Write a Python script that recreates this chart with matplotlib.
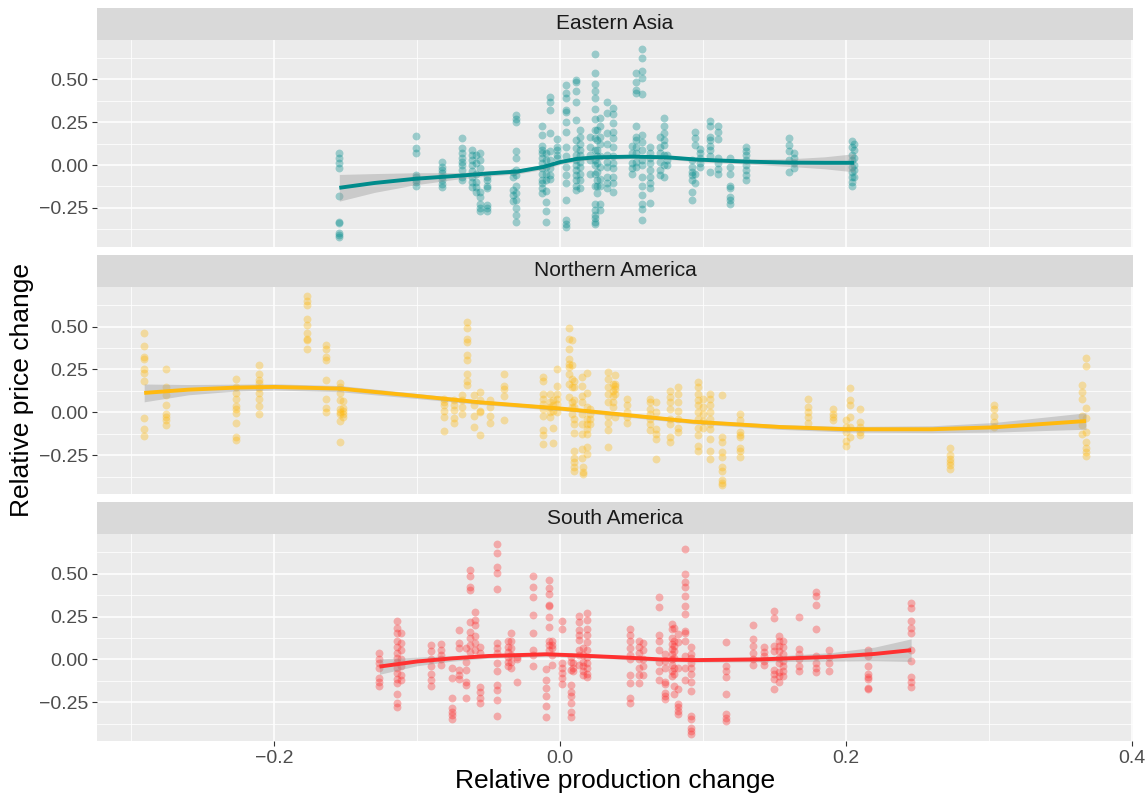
import numpy as np
import matplotlib
matplotlib.use("Agg")
import matplotlib.pyplot as plt
from matplotlib.ticker import MultipleLocator

plt.rcParams['font.family'] = ['Liberation Sans', 'DejaVu Sans']

# ---------------- datos ----------------
regiones = ["Eastern Asia", "Northern America", "South America"]
colores = ["#008B8B", "#FFB90F", "#FF3030"]

# Eastern Asia: x de cada franja y sus valores de precio
ea_x = [-0.155, -0.101, -0.083, -0.069, -0.062, -0.059, -0.056, -0.051, -0.033, -0.031,
        -0.013, -0.010, -0.007, -0.002, 0.004, 0.011, 0.014, 0.021, 0.0245, 0.0259,
        0.028, 0.0326, 0.0373, 0.050, 0.053, 0.057, 0.063, 0.070, 0.0727, 0.075,
        0.092, 0.094, 0.098, 0.105, 0.1107, 0.119, 0.130, 0.160, 0.1636, 0.204, 0.2056]
ea_y = [
    [0.07, 0.04, 0.01, -0.02, -0.18, -0.33, -0.34, -0.395, -0.41, -0.42],
    [0.17, 0.10, 0.07, -0.06, -0.07, -0.09, -0.10, -0.12],
    [0.02, -0.01, -0.03, -0.045, -0.07, -0.09, -0.11, -0.13],
    [0.16, 0.10, 0.07, 0.04, 0.02, 0.0, -0.03, -0.07, -0.09],
    [0.09, 0.06, 0.03, 0.0, -0.035, -0.07, -0.10, -0.13],
    [0.06, 0.01, -0.05, -0.10, -0.13, -0.155],
    [0.07, 0.03, -0.02, -0.155, -0.185, -0.225, -0.25, -0.27],
    [-0.07, -0.09, -0.12, -0.135, -0.235, -0.25, -0.27],
    [-0.04, -0.07, -0.145, -0.175, -0.21],
    [0.29, 0.27, 0.25, 0.08, 0.04, -0.03, -0.06, -0.12, -0.165, -0.205, -0.25, -0.29, -0.33],
    [0.23, 0.175, 0.11, 0.09, 0.07, 0.04, 0.01, -0.02, -0.05, -0.09, -0.105, -0.135, -0.165],
    [0.07, 0.03, -0.01, -0.05, -0.09, -0.15, -0.215, -0.27, -0.33],
    [0.395, 0.37, 0.32, 0.185, 0.08, 0.03, -0.02, -0.06, -0.08],
    [0.15, 0.105, 0.09, 0.06, 0.04],
    [0.465, 0.42, 0.39, 0.32, 0.31, 0.25, 0.195, 0.105, 0.05, -0.01, -0.06, -0.105, -0.205, -0.32, -0.345, -0.36],
    [0.495, 0.485, 0.43, 0.37, 0.26, 0.145, 0.10, 0.06, 0.03, 0.0, -0.03, -0.06, -0.09, -0.125, -0.145],
    [0.205, 0.165, 0.125, 0.09, 0.06, 0.02, -0.01, -0.05, -0.09, -0.135],
    [0.165, 0.105, 0.06, 0.03, -0.05],
    [0.65, 0.535, 0.475, 0.43, 0.39, 0.33, 0.27, 0.205, 0.155, 0.09, 0.03, 0.0, -0.05, -0.125, -0.225, -0.265, -0.29, -0.31, -0.33, -0.345],
    [0.205, 0.145, 0.09, 0.05, 0.01, -0.04, -0.09, -0.125, -0.165],
    [0.275, 0.225, 0.165, 0.125, 0.05, -0.01, -0.08, -0.125, -0.225, -0.265],
    [0.37, 0.305, 0.185, 0.125, 0.06, 0.02, -0.01, -0.07, -0.105, -0.135],
    [0.335, 0.30, 0.245, 0.195, 0.155, 0.105, 0.05, 0.01, -0.02, -0.07, -0.105, -0.155],
    [0.11, 0.07, 0.01, -0.02, -0.05],
    [0.535, 0.485, 0.44, 0.42, 0.225, 0.165, 0.145, 0.105, 0.07, 0.02, -0.01],
    [0.675, 0.625, 0.55, 0.51, 0.415, 0.175, 0.135, 0.09, 0.03, 0.0, -0.07, -0.125, -0.175, -0.225, -0.255, -0.32],
    [0.105, 0.07, 0.04, 0.01, -0.03, -0.07, -0.105, -0.135, -0.22],
    [0.165, 0.105, 0.07, 0.02, -0.03, -0.06],
    [0.275, 0.225, 0.185, 0.145, 0.115, 0.06, 0.0, -0.07],
    [0.06, 0.03, 0.0],
    [0.03, -0.01, -0.04, -0.06, -0.09, -0.155, -0.205],
    [0.195, 0.155, 0.115, -0.05, -0.105],
    [0.095, 0.07, 0.04, 0.01, -0.01],
    [0.255, 0.225, 0.165, 0.145, 0.11, 0.09, 0.05, -0.04],
    [0.23, 0.195, 0.15, 0.04, 0.01, -0.025, -0.055],
    [0.04, -0.01, -0.05, -0.125, -0.135, -0.185, -0.205, -0.23],
    [0.105, 0.08, 0.06, 0.03, 0.0, -0.03, -0.06, -0.09],
    [0.155, 0.115, 0.08, 0.03, -0.04],
    [0.07, 0.04, 0.01, -0.02],
    [0.14, 0.105, 0.06, 0.03, -0.01, -0.04, -0.07, -0.10, -0.125],
    [0.125, 0.09, 0.04, 0.0, -0.03, -0.07],
]

# Northern America
na_x = [-0.291, -0.276, -0.227, -0.211, -0.177, -0.164, -0.154, -0.152, -0.0816, -0.074,
        -0.069, -0.065, -0.0606, -0.056, -0.049, -0.0396, -0.0121, -0.007, -0.0047, -0.0023,
        0.0065, 0.0082, 0.010, 0.0152, 0.0159, 0.0187, 0.021, 0.0338, 0.0368, 0.0385,
        0.0466, 0.063, 0.067, 0.077, 0.0821, 0.0967, 0.1002, 0.1049, 0.1135, 0.1259,
        0.1736, 0.1907, 0.200, 0.2028, 0.2098, 0.2727, 0.3037, 0.3648, 0.3678]
na_y = [
    [0.465, 0.385, 0.32, 0.31, 0.25, 0.23, 0.185, -0.035, -0.10, -0.14],
    [0.25, 0.15, 0.10, 0.045, -0.01, -0.03, -0.045, -0.075],
    [0.195, 0.15, 0.11, 0.08, 0.035, 0.02, -0.005, -0.065, -0.145, -0.16],
    [0.275, 0.225, 0.19, 0.17, 0.14, 0.11, 0.08, 0.035, -0.01],
    [0.68, 0.65, 0.625, 0.545, 0.51, 0.46, 0.43, 0.42, 0.37],
    [0.395, 0.37, 0.32, 0.305, 0.19, 0.08, 0.025, 0.0],
    [0.17, 0.15, 0.11, 0.07, 0.02, 0.0, -0.01, -0.05, -0.175],
    [0.065, 0.025, 0.01, -0.01, -0.025],
    [0.08, 0.06, 0.04, 0.01, -0.025, -0.11],
    [0.07, 0.04, 0.015, -0.035, -0.065],
    [0.10, 0.07, 0.03, -0.01],
    [0.525, 0.49, 0.43, 0.41, 0.335, 0.305, 0.225, 0.185, 0.16],
    [0.10, 0.04, -0.02, -0.085],
    [0.12, 0.07, 0.01, 0.0, -0.13],
    [0.07, 0.03, -0.02, -0.06],
    [0.225, 0.155, 0.135, 0.095, -0.045],
    [0.205, 0.185, 0.105, 0.08, 0.05, 0.02, -0.02, -0.105, -0.135, -0.185],
    [0.105, 0.06, 0.03, 0.0, -0.03],
    [0.07, 0.04, 0.01, -0.09, -0.18],
    [0.255, 0.155, 0.105, 0.08, 0.05, 0.0],
    [0.49, 0.43, 0.37, 0.31, 0.28, 0.265, 0.225, 0.165, 0.09],
    [0.42, 0.275, 0.195, 0.145, 0.06, 0.03, -0.01],
    [0.185, 0.145, 0.07, 0.03, -0.04, -0.07, -0.12, -0.225, -0.265, -0.29, -0.32, -0.345],
    [0.205, 0.155, 0.095, 0.06, -0.01, -0.07, -0.125, -0.215, -0.265],
    [-0.32, -0.35, -0.36],
    [0.23, 0.115, 0.03, -0.04, -0.07, -0.095, -0.125, -0.20, -0.245],
    [0.02, -0.01, -0.04, -0.07],
    [0.235, 0.195, 0.145, 0.105, 0.06, -0.02, -0.06, -0.105, -0.205],
    [0.165, 0.125, 0.095, 0.06, 0.03],
    [0.22, 0.165, 0.155, 0.135, 0.105, -0.03],
    [0.08, 0.04, 0.0, -0.03, -0.06],
    [0.08, 0.06, 0.02, -0.01, -0.04, -0.07, -0.105],
    [0.06, 0.0, -0.095, -0.125, -0.155, -0.275],
    [0.125, 0.09, 0.06, 0.02, -0.04, -0.07, -0.145, -0.175],
    [0.145, 0.105, 0.06, 0.01, -0.04, -0.09, -0.115],
    [0.175, 0.145, 0.105, 0.07, 0.04, 0.0, -0.04, -0.09, -0.135, -0.195, -0.225],
    [0.08, 0.03, -0.01, -0.05, -0.09],
    [0.105, 0.08, 0.04, 0.0, -0.04, -0.07, -0.095, -0.155, -0.225, -0.275],
    [0.10, -0.145, -0.175, -0.23, -0.26, -0.32, -0.34, -0.395, -0.41, -0.425],
    [-0.01, -0.045, -0.115, -0.13, -0.145, -0.21, -0.225, -0.26],
    [0.075, 0.03, 0.0, -0.025, -0.06],
    [0.02, -0.01, -0.025, -0.045],
    [-0.045, -0.085, -0.115, -0.165, -0.195],
    [0.14, 0.07, 0.04, -0.025, -0.085, -0.145],
    [0.02, -0.055, -0.085, -0.115, -0.135],
    [-0.21, -0.25, -0.27, -0.29, -0.31, -0.33],
    [0.04, 0.02, -0.02, -0.055, -0.085],
    [0.16, 0.12, 0.08, -0.02, -0.075, -0.125],
    [0.315, 0.27, 0.025, -0.035, -0.115, -0.175, -0.21, -0.23, -0.255],
]

# South America
sa_x = [-0.1264, -0.1142, -0.1114, -0.0904, -0.0834, -0.0755, -0.0708, -0.0657, -0.0629, -0.0594,
        -0.0564, -0.0444, -0.0366, -0.0347, -0.0303, -0.019, -0.0098, -0.0079, -0.0058, 0.0012,
        0.0077, 0.0093, 0.0135, 0.0159, 0.0191, 0.0485, 0.0548, 0.0578, 0.0688, 0.0734,
        0.078, 0.0799, 0.0827, 0.0876, 0.0914, 0.1161, 0.1347, 0.1427, 0.1499, 0.1531,
        0.1562, 0.167, 0.1788, 0.1883, 0.215, 0.2455]
sa_y = [
    [0.035, 0.005, -0.02, -0.05, -0.11, -0.13, -0.155],
    [0.225, 0.185, 0.155, 0.105, 0.07, 0.04, 0.01, -0.015, -0.05, -0.08, -0.115, -0.14, -0.205, -0.255, -0.28],
    [0.155, 0.095, 0.055, 0.0, -0.04, -0.09, -0.12],
    [0.085, 0.05, 0.0, -0.04, -0.085, -0.12, -0.155],
    [0.09, 0.055, 0.025, 0.0, -0.03],
    [-0.05, -0.11, -0.225, -0.285, -0.305, -0.325, -0.35],
    [0.17, 0.095, 0.065, -0.06, -0.09, -0.115],
    [0.065, -0.015, -0.06, -0.13, -0.15, -0.225],
    [0.525, 0.485, 0.425, 0.405, 0.22, 0.16, 0.125, 0.085, 0.045],
    [0.275, 0.23, 0.20, 0.135, 0.095, 0.055],
    [0.075, 0.035, -0.16, -0.19, -0.225, -0.255],
    [0.675, 0.62, 0.54, 0.505, 0.41, 0.095, 0.065, 0.035, -0.02, -0.07, -0.15, -0.18, -0.235, -0.33],
    [0.105, 0.075, 0.045, 0.015, -0.015, -0.04],
    [0.155, 0.11, 0.065, 0.025, -0.015, -0.05],
    [0.015, 0.0, -0.13],
    [0.49, 0.425, 0.365, 0.26, 0.155, 0.055, 0.025, -0.04],
    [-0.055, -0.12, -0.17, -0.215, -0.27, -0.335],
    [0.465, 0.415, 0.385, 0.32, 0.31, 0.245, 0.19, 0.105, 0.085, 0.055],
    [0.11, 0.085, 0.065, 0.025, -0.03],
    [0.225, 0.18, -0.02, -0.05, -0.08, -0.11, -0.145],
    [0.015, -0.015, -0.06, -0.15, -0.19, -0.215, -0.255, -0.305, -0.335],
    [-0.02, -0.05, -0.07],
    [0.255, 0.22, 0.17, 0.145, 0.115, 0.055, 0.025, -0.03],
    [0.065, 0.025, -0.015, -0.04, -0.07, -0.09],
    [0.27, 0.23, 0.18, 0.145, 0.10, 0.055, 0.015, -0.02, -0.05, -0.085, -0.10],
    [0.18, 0.145, 0.105, 0.065, 0.025, 0.0, -0.09, -0.14, -0.225, -0.255],
    [0.105, 0.075, 0.035, 0.0, -0.05, -0.09, -0.14],
    [0.095, 0.055, 0.005, -0.04, -0.09],
    [0.365, 0.305, 0.145, 0.105, 0.055, -0.015, -0.07, -0.12],
    [0.03, -0.01, -0.05, -0.135, -0.145, -0.195, -0.215, -0.23],
    [0.205, 0.175, 0.125, 0.09, 0.06, 0.03, 0.0, -0.03, -0.065, -0.095],
    [0.185, 0.11, 0.08, 0.05, 0.01, -0.05, -0.085, -0.155, -0.205],
    [0.15, 0.10, -0.05, -0.175, -0.26, -0.28, -0.30, -0.32],
    [0.645, 0.50, 0.455, 0.425, 0.37, 0.315, 0.265, 0.165, 0.155, 0.11, 0.02, -0.05, -0.12],
    [0.07, 0.03, 0.01, -0.02, -0.05, -0.085, -0.135, -0.185, -0.33, -0.35, -0.40, -0.42, -0.435],
    [0.10, -0.04, -0.065, -0.105, -0.205, -0.32, -0.345, -0.36],
    [0.20, 0.12, 0.08, 0.035, 0.0, -0.03],
    [0.07, 0.045, 0.02, -0.01, -0.03],
    [0.285, 0.24, 0.08, 0.05, -0.06, -0.085, -0.115, -0.175],
    [0.135, 0.11, 0.08, 0.05, 0.01, -0.02, -0.075, -0.095, -0.135],
    [0.11, 0.07, 0.03, -0.01, -0.04, -0.07, -0.095],
    [0.25, 0.06, 0.03, 0.0, -0.04, -0.065],
    [0.395, 0.37, 0.32, 0.18, 0.02, -0.02, -0.05, -0.075],
    [0.055, 0.015, -0.02, -0.065],
    [0.055, 0.02, -0.04, -0.085, -0.10, -0.115, -0.165, -0.175],
    [0.33, 0.30, 0.225, 0.185, 0.155, 0.055, -0.01, -0.105, -0.135, -0.16],
]

# curvas suavizadas (loess): x, y, semiancho de la banda
ea_sx = [-0.1545, -0.13, -0.101, -0.07, -0.05, -0.03, -0.012, 0.0, 0.012, 0.025, 0.05, 0.075, 0.095, 0.13, 0.16, 0.185, 0.2056]
ea_sy = [-0.133, -0.105, -0.08, -0.062, -0.049, -0.038, -0.012, 0.017, 0.036, 0.045, 0.049, 0.045, 0.032, 0.02, 0.014, 0.013, 0.013]
ea_se = [0.078, 0.055, 0.035, 0.018, 0.015, 0.014, 0.014, 0.014, 0.013, 0.013, 0.012, 0.012, 0.012, 0.014, 0.022, 0.035, 0.053]

na_sx = [-0.291, -0.26, -0.227, -0.2, -0.154, -0.1, -0.056, 0.0, 0.037, 0.093, 0.154, 0.2, 0.26, 0.303, 0.3678]
na_sy = [0.113, 0.132, 0.144, 0.148, 0.138, 0.095, 0.058, 0.022, -0.008, -0.055, -0.086, -0.099, -0.099, -0.088, -0.051]
na_se = [0.052, 0.03, 0.02, 0.018, 0.018, 0.015, 0.012, 0.012, 0.012, 0.012, 0.014, 0.016, 0.02, 0.028, 0.048]

sa_sx = [-0.1264, -0.1, -0.0755, -0.05, -0.01, 0.01, 0.045, 0.07, 0.095, 0.14, 0.19, 0.22, 0.2455]
sa_sy = [-0.042, -0.012, 0.006, 0.02, 0.03, 0.024, 0.011, 0.0, -0.004, 0.0, 0.015, 0.032, 0.054]
sa_se = [0.045, 0.025, 0.016, 0.013, 0.012, 0.012, 0.012, 0.012, 0.012, 0.014, 0.025, 0.04, 0.066]

puntos = [(ea_x, ea_y), (na_x, na_y), (sa_x, sa_y)]
curvas = [(ea_sx, ea_sy, ea_se), (na_sx, na_sy, na_se), (sa_sx, sa_sy, sa_se)]

y_ticks = [-0.25, 0.0, 0.25, 0.50]
y_labels = ["\u22120.25", "0.00", "0.25", "0.50"]
x_ticks = [-0.2, 0.0, 0.2, 0.4]
x_labels = ["\u22120.2", "0.0", "0.2", "0.4"]

# ---------------- figura ----------------
W, H = 1145, 797
fig = plt.figure(figsize=(W / 100, H / 100), dpi=100)

def caja(l, t, r, b):
    return [l / W, 1 - b / H, (r - l) / W, (b - t) / H]

paneles = [(97, 39.5, 1133, 246.7), (97, 286.7, 1133, 494), (97, 534, 1133, 741)]
tiras = [(97, 8, 1133, 39.5), (97, 255, 1133, 286.7), (97, 502, 1133, 534)]

for i, reg in enumerate(regiones):
    ax = fig.add_axes(caja(*paneles[i]))
    ax.set_facecolor("#EBEBEB")
    for s in ax.spines.values():
        s.set_visible(False)
    ax.set_xlim(-0.324, 0.4007)
    ax.set_ylim(-0.477, 0.733)

    ax.set_xticks(x_ticks)
    ax.set_yticks(y_ticks)
    ax.set_yticklabels(y_labels)
    ax.xaxis.set_minor_locator(MultipleLocator(0.1))
    ax.yaxis.set_minor_locator(MultipleLocator(0.125))
    ax.tick_params(which="minor", length=0)
    ax.tick_params(which="major", length=3.5, width=0.8, color="#333333",
                   labelcolor="#4D4D4D", labelsize=14, pad=3)
    if i == 2:
        ax.set_xticklabels(x_labels)
    else:
        ax.tick_params(axis="x", which="both", bottom=False, labelbottom=False)
    ax.grid(which="major", color="white", lw=1.1)
    ax.grid(which="minor", color="white", lw=0.55)
    ax.set_axisbelow(True)

    xs, ys = puntos[i]
    px = np.concatenate([[x] * len(v) for x, v in zip(xs, ys)])
    py = np.concatenate([v for v in ys])
    ax.scatter(px, py, s=32, color=colores[i], alpha=0.35, linewidths=0, zorder=2)

    sx, sy, se = [np.array(a) for a in curvas[i]]
    ax.fill_between(sx, sy - se, sy + se, color="#999999", alpha=0.4, lw=0, zorder=3)
    ax.plot(sx, sy, color=colores[i], lw=2.8, zorder=4, solid_capstyle="butt")

    st = fig.add_axes(caja(*tiras[i]))
    st.set_facecolor("#D9D9D9")
    st.set_xticks([])
    st.set_yticks([])
    for s in st.spines.values():
        s.set_visible(False)
    st.text(0.5, 0.5, reg, ha="center", va="center", fontsize=15, color="#1A1A1A",
            transform=st.transAxes)

fig.text(615 / W, 1 - 781 / H, "Relative production change", ha="center", va="center", fontsize=19)
fig.text(22 / W, 1 - 390 / H, "Relative price change", ha="center", va="center",
         rotation=90, fontsize=19)

fig.savefig("out.png", dpi=100)
